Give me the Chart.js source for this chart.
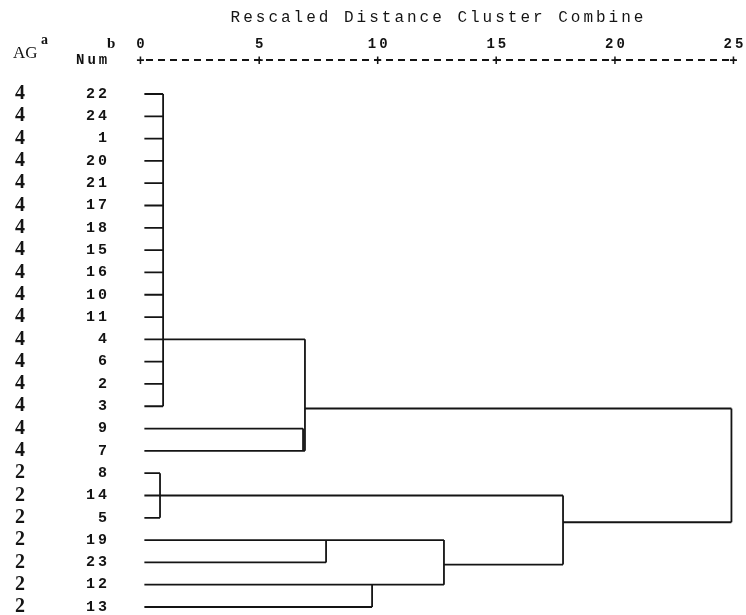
<!DOCTYPE html>
<html lang="en">
<head>
  <meta charset="UTF-8" />
  <title>Dendrogram</title>
  <script src="https://cdn.jsdelivr.net/npm/chart.js"></script>
  <style>
    body {
      margin: 0;
      background: #ffffff;
    }
    #wrap {
      position: relative;
      width: 746px;
      height: 615px;
    }
    .hdr {
      position: absolute;
      color: #111;
      line-height: 1;
      white-space: nowrap;
    }
  </style>
</head>
<body>
  <div id="wrap">
    <canvas id="dendro"></canvas>
    <div class="hdr" style="left: 13px; top: 43px; font: 17px 'Liberation Serif', serif;">AG</div>
    <div class="hdr" style="left: 41px; top: 32px; font: bold 14px 'Liberation Serif', serif;">a</div>
    <div class="hdr" style="left: 107px; top: 35px; font: bold 15px 'Liberation Serif', serif;">b</div>
    <div class="hdr" style="left: 76px; top: 52px; font: bold 14px 'Liberation Mono', monospace; letter-spacing: 3px;">Num</div>
  </div>

<script>
  // rows top to bottom
  const rowNums   = [22, 24, 1, 20, 21, 17, 18, 15, 16, 10, 11, 4, 6, 2, 3, 9, 7, 8, 14, 5, 19, 23, 12, 13];
  const rowGroups = [4, 4, 4, 4, 4, 4, 4, 4, 4, 4, 4, 4, 4, 4, 4, 4, 4, 2, 2, 2, 2, 2, 2, 2];
  const rowNode   = [0, 0, 0, 0, 0, 0, 0, 0, 0, 0, 0, 0, 0, 0, 0, 1, 1, 3, 3, 3, 4, 4, 5, 5];
  const xTicks = [0, 5, 10, 15, 20, 25];

  // merge nodes: distance, row of the outgoing line, parent node
  const nodeDist   = [0.89, 6.79, 6.87, 0.76, 7.76, 9.70, 12.73, 17.75, 24.85];
  const nodeOutRow = [11, 16, 14.1, 18, 20, 22, 21.1, 19.2, null];
  const nodeParent = [2, 2, 8, 7, 6, 6, 7, 8, null];
  const leafStart = 0.1;

  const ink = '#141414';
  const mono = "'Liberation Mono', monospace";

  // y positions of everything hanging under each node
  const childRows = nodeDist.map(() => []);
  rowNode.forEach((n, r) => childRows[n].push(r));
  nodeParent.forEach((p, n) => { if (p !== null) childRows[p].push(nodeOutRow[n]); });

  const points = [];
  function seg(x1, y1, x2, y2) {
    points.push({x: x1, y: y1}, {x: x2, y: y2}, {x: null, y: null});
  }
  rowNode.forEach((n, r) => seg(leafStart, r, nodeDist[n], r));
  nodeDist.forEach((d, n) => {
    const rows = childRows[n];
    seg(d, Math.min(...rows), d, Math.max(...rows));
    if (nodeParent[n] !== null) seg(d, nodeOutRow[n], nodeDist[nodeParent[n]], nodeOutRow[n]);
  });

  // vertical layout in px: axis box height, rule line, first and last row
  const axisH = 70, ruleAt = 60, firstRow = 94, lastRow = 607, bottom = 615;
  const rowStep = (lastRow - firstRow) / (rowNums.length - 1);
  const yMin = -(firstRow - axisH) / rowStep;
  const yMax = rowNums.length - 1 + (bottom - lastRow) / rowStep;
  const ruleY = yMin - (axisH - ruleAt) / rowStep;

  const spacing = {
    id: 'spacing',
    beforeDraw(chart) { chart.ctx.letterSpacing = '3px'; },
    afterDraw(chart) { chart.ctx.letterSpacing = '0px'; }
  };

  new Chart(document.getElementById('dendro'), {
    type: 'scatter',
    data: {
      datasets: [{
        data: points,
        showLine: true,
        spanGaps: false,
        borderColor: ink,
        borderWidth: 1.8,
        pointRadius: 0,
        pointHoverRadius: 0
      }, {
        // dashed rule of the distance axis
        data: [{x: xTicks[0], y: ruleY}, {x: xTicks[xTicks.length - 1], y: ruleY}],
        showLine: true,
        clip: false,
        borderColor: ink,
        borderWidth: 1.8,
        borderDash: [7, 5],
        borderDashOffset: -4,
        pointRadius: 0,
        pointHoverRadius: 0
      }]
    },
    options: {
      responsive: true,
      maintainAspectRatio: false,
      animation: false,
      layout: { padding: { left: 0, top: 0, right: 11, bottom: 0 } },
      plugins: {
        legend: { display: false },
        tooltip: { enabled: false }
      },
      scales: {
        x: {
          type: 'linear',
          position: 'top',
          min: 0,
          max: 25,
          grid: { display: false, drawTicks: false },
          border: { display: false },
          afterBuildTicks: s => { s.ticks = xTicks.map(v => ({ value: v })); },
          afterFit: s => { s.height = axisH; s.paddingLeft = 0; s.paddingRight = 0; },
          ticks: {
            padding: 0.5,
            maxRotation: 0,
            autoSkip: false,
            color: ink,
            font: { family: mono, size: 14, weight: 'bold', lineHeight: '17px' },
            callback: v => [String(v), '+']
          },
          title: {
            display: true,
            text: 'Rescaled Distance Cluster Combine',
            color: ink,
            font: { family: mono, size: 16 },
            padding: { top: 8, bottom: 0 }
          }
        },
        y: {
          type: 'linear',
          position: 'left',
          weight: 0,
          reverse: true,
          min: yMin,
          max: yMax,
          grid: { display: false, drawTicks: false },
          border: { display: false },
          afterBuildTicks: s => { s.ticks = rowNums.map((_, i) => ({ value: i })); },
          afterFit: s => { s.width = 102; s.paddingTop = 0; s.paddingBottom = 0; },
          ticks: {
            padding: 32,
            autoSkip: false,
            color: ink,
            font: { family: mono, size: 15, weight: 'bold' },
            callback: v => rowNums[v]
          }
        },
        y2: {
          type: 'linear',
          position: 'left',
          weight: 1,
          reverse: true,
          min: yMin,
          max: yMax,
          grid: { display: false, drawTicks: false },
          border: { display: false },
          afterBuildTicks: s => { s.ticks = rowGroups.map((_, i) => ({ value: i })); },
          afterFit: s => { s.width = 40; s.paddingTop = 0; s.paddingBottom = 0; },
          ticks: {
            padding: 12,
            autoSkip: false,
            color: ink,
            font: { family: "'Liberation Serif', serif", size: 20, weight: 'bold' },
            callback: v => rowGroups[v]
          }
        }
      }
    },
    plugins: [spacing]
  });
</script>
</body>
</html>
